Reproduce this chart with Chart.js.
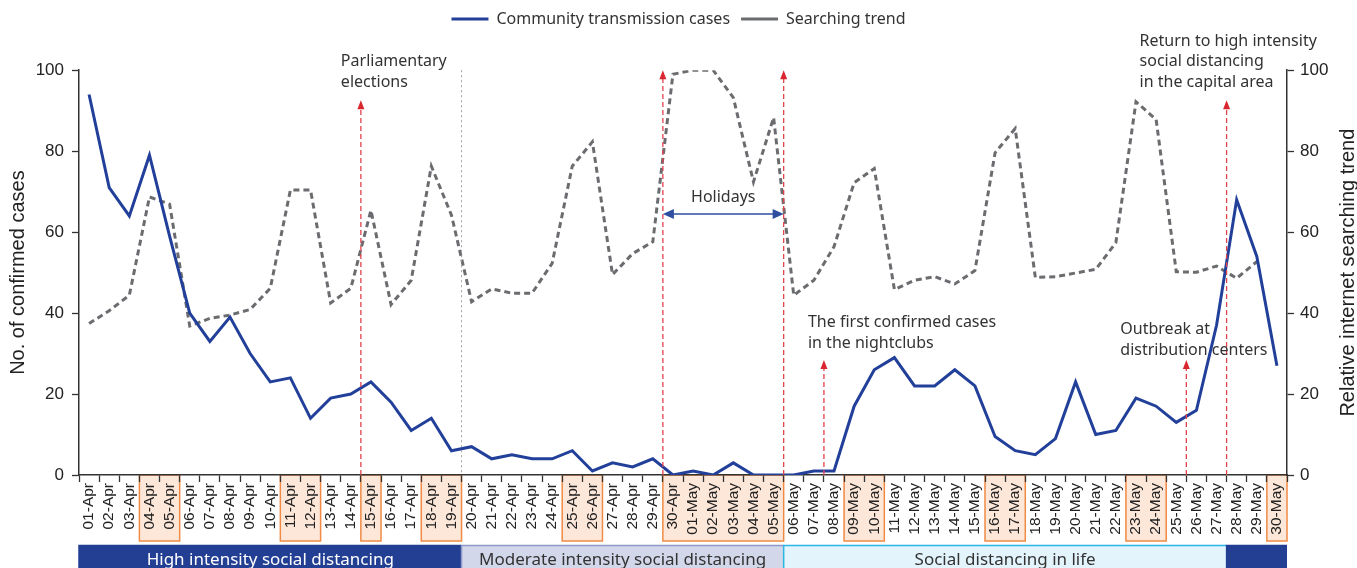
<!DOCTYPE html>
<html>
<head>
<meta charset="utf-8">
<script src="https://cdn.jsdelivr.net/npm/chart.js"></script>
<style>
  html, body { margin: 0; padding: 0; background: #fff; }
  #wrap { width: 1357px; height: 568px; }
</style>
</head>
<body>
<div id="wrap"><canvas id="myChart" width="1357" height="568"></canvas></div>
<script>
const labels = [
  '01-Apr', '02-Apr', '03-Apr', '04-Apr', '05-Apr', '06-Apr', '07-Apr', '08-Apr', '09-Apr', '10-Apr',
  '11-Apr', '12-Apr', '13-Apr', '14-Apr', '15-Apr', '16-Apr', '17-Apr', '18-Apr', '19-Apr', '20-Apr',
  '21-Apr', '22-Apr', '23-Apr', '24-Apr', '25-Apr', '26-Apr', '27-Apr', '28-Apr', '29-Apr', '30-Apr',
  '01-May', '02-May', '03-May', '04-May', '05-May', '06-May', '07-May', '08-May', '09-May', '10-May',
  '11-May', '12-May', '13-May', '14-May', '15-May', '16-May', '17-May', '18-May', '19-May', '20-May',
  '21-May', '22-May', '23-May', '24-May', '25-May', '26-May', '27-May', '28-May', '29-May', '30-May'
];

// community transmission cases (left axis)
const cases = [
  94, 71, 64, 79, 59, 40, 33, 39, 30, 23,
  24, 14, 19, 20, 23, 18, 11, 14, 6, 7,
  4, 5, 4, 4, 6, 1, 3, 2, 4, 0,
  1, 0, 3, 0, 0, 0, 1, 1, 17, 26,
  29, 22, 22, 26, 22, 9.5, 6, 5, 9, 23,
  10, 11, 19, 17, 13, 16, 37, 68, 54, 27
];

// relative internet searching trend (right axis)
const searching = [
  37.4, 40.6, 44.4, 68.7, 66.9, 36.8, 38.7, 39.5, 40.9, 46.1,
  70.4, 70.4, 42.5, 46.1, 65.4, 42.1, 48.1, 76.3, 64.2, 42.8,
  46, 44.9, 44.9, 52.3, 76.3, 82.3, 49.5, 54.7, 57.6, 99,
  100, 100, 93.2, 72.4, 88.3, 44.4, 48.1, 56.4, 72.2, 75.7,
  45.8, 48.1, 49, 47.2, 50.5, 79.6, 85.6, 48.8, 49, 49.9,
  50.8, 57.4, 92.2, 87.8, 50.2, 50.1, 51.6, 48.6, 52.7, null
];

const yTicks = [0, 20, 40, 60, 80, 100];

// weekends and holidays, boxed on the axis
const offDays = [
  '04-Apr', '05-Apr', '11-Apr', '12-Apr', '15-Apr', '18-Apr', '19-Apr', '25-Apr', '26-Apr',
  '30-Apr', '01-May', '02-May', '03-May', '04-May', '05-May', '09-May', '10-May',
  '16-May', '17-May', '23-May', '24-May', '30-May'
];

const phaseNames = ['High intensity social distancing', 'Moderate intensity social distancing', 'Social distancing in life', ''];
const phaseLast = ['19-Apr', '05-May', '27-May', '30-May'];

// events: arrow sits on the boundary after this day
const eventAfter = ['14-Apr', '29-Apr', '05-May', '07-May', '25-May', '27-May'];

const blue = '#22409a';
const grey = '#6b6c6f';
const red = '#e0434c';

const ctx = document.getElementById('myChart');

function edgeAfter(x, label) {
  const i = labels.indexOf(label);
  return (x.getPixelForValue(i) + x.getPixelForValue(i + 1)) / 2;
}

function upArrow(c, x, y0, y1) {
  c.save();
  c.strokeStyle = red;
  c.lineWidth = 1.3;
  c.setLineDash([5, 3]);
  c.beginPath();
  c.moveTo(x, y0);
  c.lineTo(x, y1 + 8);
  c.stroke();
  c.setLineDash([]);
  c.fillStyle = '#d9262f';
  c.beginPath();
  c.moveTo(x, y1);
  c.lineTo(x - 3.5, y1 + 9);
  c.lineTo(x + 3.5, y1 + 9);
  c.closePath();
  c.fill();
  c.restore();
}

function lines(c, arr, x, y, gap) {
  arr.forEach((t, i) => c.fillText(t, x, y + i * gap));
}

const extras = {
  id: 'extras',
  beforeDraw(chart) {
    const c = chart.ctx;
    const x = chart.scales.x;
    const area = chart.chartArea;
    const step = x.getPixelForValue(1) - x.getPixelForValue(0);
    c.save();
    // boxed weekend labels
    let i = 0;
    while (i < labels.length) {
      if (offDays.includes(labels[i])) {
        let j = i;
        while (j + 1 < labels.length && offDays.includes(labels[j + 1])) j++;
        const l = x.getPixelForValue(i) - step / 2;
        const r = x.getPixelForValue(j) + step / 2;
        c.fillStyle = '#fde7d9';
        c.fillRect(l, area.bottom, r - l, 66);
        c.strokeStyle = '#f08a45';
        c.lineWidth = 1.5;
        c.strokeRect(l, area.bottom, r - l, 66);
        i = j + 1;
      } else {
        i++;
      }
    }
    // phase bands
    const fills = ['#233f94', '#d3d7ea', '#e3f4fc', '#233f94'];
    const edges = ['#233f94', '#8e98c8', '#2ab5e8', '#233f94'];
    const inks = ['#ffffff', '#333333', '#333333', '#ffffff'];
    let left = area.left;
    phaseLast.forEach((d, k) => {
      const right = k === phaseLast.length - 1 ? area.right : edgeAfter(x, d);
      c.fillStyle = fills[k];
      c.fillRect(left, 545, right - left, 30);
      c.strokeStyle = edges[k];
      c.lineWidth = 1.5;
      c.beginPath();
      c.moveTo(left, 569);
      c.lineTo(left, 545.5);
      c.lineTo(right, 545.5);
      c.stroke();
      c.fillStyle = inks[k];
      c.font = '17px "Noto Sans"';
      c.textAlign = 'center';
      c.textBaseline = 'alphabetic';
      c.fillText(phaseNames[k], (left + right) / 2, 565);
      left = right;
    });
    c.restore();
  },
  afterDatasetsDraw(chart) {
    const c = chart.ctx;
    const x = chart.scales.x;
    const y = chart.scales.y;
    const area = chart.chartArea;
    c.save();
    // phase change at 19/20 Apr
    const pz = edgeAfter(x, '19-Apr');
    c.strokeStyle = '#a0a0a0';
    c.lineWidth = 1;
    c.setLineDash([2, 3]);
    c.beginPath();
    c.moveTo(pz, area.top);
    c.lineTo(pz, area.bottom);
    c.stroke();
    c.setLineDash([]);

    const tops = [92.6, 100, 100, 28.4, 28.4, 92.6];
    const ex = eventAfter.map(d => edgeAfter(x, d));
    ex.forEach((px, k) => upArrow(c, px, area.bottom, y.getPixelForValue(tops[k])));

    // holidays span
    const hy = 214;
    c.strokeStyle = '#2f4ea0';
    c.fillStyle = '#2f4ea0';
    c.lineWidth = 1.5;
    c.beginPath();
    c.moveTo(ex[1] + 8, hy);
    c.lineTo(ex[2] - 8, hy);
    c.stroke();
    c.beginPath();
    c.moveTo(ex[1], hy); c.lineTo(ex[1] + 11, hy - 5); c.lineTo(ex[1] + 11, hy + 5); c.closePath();
    c.moveTo(ex[2], hy); c.lineTo(ex[2] - 11, hy - 5); c.lineTo(ex[2] - 11, hy + 5); c.closePath();
    c.fill();

    c.fillStyle = '#333333';
    c.font = '16px "Noto Sans"';
    c.textBaseline = 'middle';
    c.textAlign = 'center';
    c.fillText('Holidays', (ex[1] + ex[2]) / 2, 197);
    c.textAlign = 'left';
    lines(c, ['Parliamentary', 'elections'], ex[0] - 20, 61, 21);
    lines(c, ['The first confirmed cases', 'in the nightclubs'], ex[3] - 16, 322, 21);
    lines(c, ['Outbreak at', 'distribution centers'], ex[4] - 66, 329, 21);
    lines(c, ['Return to high intensity', 'social distancing', 'in the capital area'], ex[5] - 87, 41, 20.5);

    // right axis title, reading upward
    c.save();
    c.translate(1348, (area.top + area.bottom) / 2);
    c.rotate(-Math.PI / 2);
    c.textAlign = 'center';
    c.font = '20px "Liberation Sans"';
    c.fillStyle = '#222222';
    c.fillText('Relative internet searching trend', 0, 0);
    c.restore();
    c.restore();
  }
};

new Chart(ctx, {
  type: 'line',
  data: {
    labels: labels,
    datasets: [{
      label: 'Community transmission cases',
      data: cases,
      borderColor: blue,
      backgroundColor: blue,
      borderWidth: 3,
      pointRadius: 0,
      tension: 0,
      yAxisID: 'y'
    }, {
      label: 'Searching trend',
      data: searching,
      borderColor: grey,
      backgroundColor: grey,
      borderWidth: 3,
      borderDash: [6, 4],
      pointRadius: 0,
      tension: 0,
      yAxisID: 'y2'
    }]
  },
  options: {
    responsive: false,
    animation: false,
    devicePixelRatio: 1,
    layout: { padding: 0 },
    plugins: {
      legend: {
        display: true,
        position: 'top',
        labels: {
          usePointStyle: true,
          pointStyle: 'line',
          pointStyleWidth: 37,
          boxHeight: 16,
          padding: 11,
          color: '#333333',
          font: { family: 'Noto Sans', size: 16 }
        }
      },
      title: {
        display: true,
        text: '',
        weight: 500,
        font: { size: 1 },
        padding: { top: 0, bottom: 32 }
      },
      tooltip: { enabled: false }
    },
    scales: {
      x: {
        offset: true,
        grid: { offset: true, drawOnChartArea: false, tickLength: 7, color: '#333', tickWidth: 1.3 },
        border: { display: true, color: '#333', width: 1.5 },
        ticks: {
          autoSkip: false, maxRotation: 90, minRotation: 90, padding: 1,
          color: '#222', font: { family: 'Liberation Sans', size: 15.5 }
        },
        afterFit(s) { s.height = 93; }
      },
      y: {
        position: 'left',
        min: 0, max: 100,
        afterBuildTicks(s) { s.ticks = yTicks.map(v => ({ value: v })); },
        grid: { drawOnChartArea: false, tickLength: 7, color: '#333', tickWidth: 1.3 },
        border: { display: true, color: '#333', width: 1.5 },
        ticks: { padding: 8, color: '#222', font: { family: 'Liberation Sans', size: 17 } },
        title: {
          display: true, text: 'No. of confirmed cases', color: '#222',
          font: { family: 'Liberation Sans', size: 20 }, padding: { top: 6, bottom: 0 }
        },
        afterFit(s) { s.width = 79; }
      },
      y2: {
        position: 'right',
        min: 0, max: 100,
        afterBuildTicks(s) { s.ticks = yTicks.map(v => ({ value: v })); },
        grid: { drawOnChartArea: false, tickLength: 7, color: '#333', tickWidth: 1.3 },
        border: { display: true, color: '#333', width: 1.5 },
        ticks: { padding: 6, color: '#222', font: { family: 'Liberation Sans', size: 17 } },
        afterFit(s) { s.width = 70; }
      }
    }
  },
  plugins: [extras]
});
</script>
</body>
</html>
